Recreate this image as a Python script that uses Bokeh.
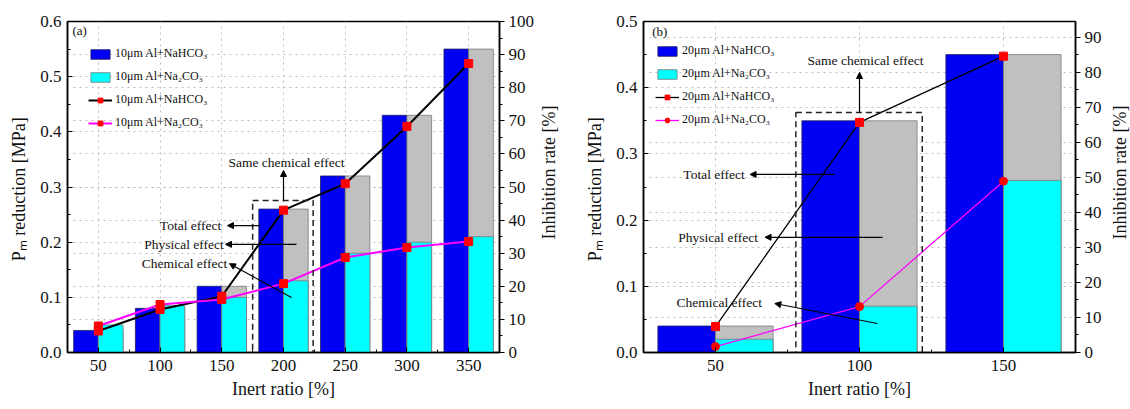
import math
from bokeh.plotting import figure
from bokeh.models import (Range1d, LinearAxis, FixedTicker, Grid, Legend, LegendItem,
                          Label, Arrow, NormalHead, BoxAnnotation, ColumnDataSource,
                          NumeralTickFormatter)
from bokeh.layouts import row
from bokeh.transform import dodge
from bokeh.embed import file_html
from bokeh.resources import INLINE

FONT = "Liberation Serif"

# ---------------- data: panel (a), 10 um Al ----------------
ratio_a = [50, 100, 150, 200, 250, 300, 350]
nahco3_bar_a = [0.04, 0.08, 0.12, 0.26, 0.32, 0.43, 0.55]
na2co3_bar_a = [0.05, 0.085, 0.10, 0.13, 0.18, 0.20, 0.21]
nahco3_rate_a = [6.5, 13.0, 17.0, 43.0, 51.0, 68.3, 87.3]
na2co3_rate_a = [8.0, 14.5, 16.0, 20.8, 28.7, 31.7, 33.5]
labels_a = ["10μm Al+NaHCO₃", "10μm Al+Na₂CO₃", "10μm Al+NaHCO₃", "10μm Al+Na₂CO₃"]

# ---------------- data: panel (b), 20 um Al ----------------
ratio_b = [50, 100, 150]
nahco3_bar_b = [0.04, 0.35, 0.45]
na2co3_bar_b = [0.02, 0.07, 0.26]
nahco3_rate_b = [7.4, 65.7, 84.6]
na2co3_rate_b = [1.7, 13.1, 48.9]
labels_b = ["20μm Al+NaHCO₃", "20μm Al+Na₂CO₃", "20μm Al+NaHCO₃", "20μm Al+Na₂CO₃"]

y_ticks_a = [0.0, 0.1, 0.2, 0.3, 0.4, 0.5, 0.6]
y_ticks_b = [0.0, 0.1, 0.2, 0.3, 0.4, 0.5]
rate_ticks_a = [0, 10, 20, 30, 40, 50, 60, 70, 80, 90, 100]
rate_ticks_b = [0, 10, 20, 30, 40, 50, 60, 70, 80, 90]

BLUE = "#0000F5"
CYAN = "#00FFFF"
GREY = "#C0C0C0"
MAGENTA = "#FF00FF"
RED = "#FF0000"
H = 409


def make_panel(ratio, bar1, bar2, rate1, rate2, labels, yticks, rticks,
               xr, yr, rr, width, bl, br, tag, ann, legend_loc, lw,
               m2="square"):
    p = figure(width=width, height=H, output_backend="svg", toolbar_location=None,
               x_range=Range1d(*xr), y_range=Range1d(*yr),
               min_border_left=bl, min_border_right=br,
               min_border_top=21, min_border_bottom=57)
    p.extra_y_ranges = {"rate": Range1d(*rr)}
    src = ColumnDataSource(dict(ratio=ratio, b1=bar1, b2=bar2, r1=rate1, r2=rate2))

    blue = p.vbar(x=dodge("ratio", -10, range=p.x_range), top="b1", width=20, source=src,
                  fill_color=BLUE, line_color="#202060", line_width=0.8)
    p.vbar(x=dodge("ratio", 10, range=p.x_range), top="b1", width=20, source=src,
           fill_color=GREY, line_color="#7a7a7a", line_width=0.8)
    cyan = p.vbar(x=dodge("ratio", 10, range=p.x_range), top="b2", width=20, source=src,
                  fill_color=CYAN, line_color="#7a7a7a", line_width=0.8)

    l1 = p.line("ratio", "r1", source=src, y_range_name="rate", line_color="black", line_width=lw)
    s1 = p.scatter("ratio", "r1", source=src, y_range_name="rate", marker="square", size=8,
                   fill_color=RED, line_color=RED)
    l2 = p.line("ratio", "r2", source=src, y_range_name="rate", line_color=MAGENTA, line_width=lw)
    s2 = p.scatter("ratio", "r2", source=src, y_range_name="rate", marker=m2, size=8,
                   fill_color=RED, line_color=RED)

    legend = Legend(items=[LegendItem(label=labels[0], renderers=[blue]),
                           LegendItem(label=labels[1], renderers=[cyan]),
                           LegendItem(label=labels[2], renderers=[l1, s1]),
                           LegendItem(label=labels[3], renderers=[l2, s2])],
                    location=legend_loc, margin=0, padding=4,
                    glyph_width=24, glyph_height=12, label_height=14, spacing=8,
                    label_standoff=3, label_text_font=FONT, label_text_font_size="12px",
                    label_text_color="#111111",
                    border_line_color=None, background_fill_alpha=0)
    p.add_layout(legend)

    raxis = LinearAxis(y_range_name="rate")
    p.add_layout(raxis, "right")

    half = (ratio[1] - ratio[0]) / 2
    p.xaxis.ticker = FixedTicker(ticks=ratio, minor_ticks=[r + half for r in ratio] + [ratio[0] - half])
    p.xaxis.axis_label = "Inert ratio [%]"
    ystep = yticks[1] - yticks[0]
    p.yaxis[0].ticker = FixedTicker(ticks=yticks, minor_ticks=[t + ystep / 2 for t in yticks])
    p.yaxis[0].formatter = NumeralTickFormatter(format="0.0")
    p.yaxis[0].axis_label = "Pₘ reduction  [MPa]"
    rstep = rticks[1] - rticks[0]
    raxis.ticker = FixedTicker(ticks=rticks, minor_ticks=[t + rstep / 2 for t in rticks])

    for ax in p.axis:
        ax.axis_label_text_font = FONT
        ax.axis_label_text_font_size = "18px"
        ax.axis_label_text_font_style = "normal"
        ax.axis_label_text_color = "#111111"
        ax.major_label_text_font = FONT
        ax.major_label_text_font_size = "17px"
        ax.major_label_text_color = "#111111"
        ax.axis_line_color = "black"
        ax.axis_line_width = 1.5
        ax.major_tick_line_color = "black"
        ax.minor_tick_line_color = "black"
        ax.major_tick_in = 5
        ax.major_tick_out = 0
        ax.minor_tick_in = 3
        ax.minor_tick_out = 0
        ax.major_label_standoff = 6
        ax.axis_label_standoff = 8
    raxis.major_tick_in = 0
    raxis.major_tick_out = 5
    raxis.minor_tick_in = 0
    raxis.minor_tick_out = 3
    raxis.major_label_standoff = 4
    p.xaxis.major_label_standoff = 7
    p.xaxis.axis_label_standoff = 5

    p.xgrid.ticker = FixedTicker(ticks=ratio)
    p.ygrid.ticker = FixedTicker(ticks=yticks)
    for g in (p.xgrid, p.ygrid):
        g.grid_line_color = "#bdbdbd"
        g.grid_line_dash = "dotted"
        g.grid_line_width = 1
    rgrid = Grid(dimension=1, y_range_name="rate", ticker=FixedTicker(ticks=rticks),
                 grid_line_color="#bdbdbd", grid_line_dash="dotted", grid_line_width=1)
    p.add_layout(rgrid)

    p.outline_line_color = "black"
    p.outline_line_width = 1.5
    p.background_fill_color = "white"
    p.border_fill_color = "white"

    # panel tag
    p.add_layout(Label(x=tag[0], y=tag[1], text=tag[2], text_font=FONT, text_font_size="13px",
                       text_align="left", text_baseline="middle", text_color="#111111"))
    # dashed frame
    bx = ann["box"]
    p.add_layout(BoxAnnotation(left=bx[0], right=bx[1], bottom=bx[2], top=bx[3],
                               fill_alpha=0, line_color="#222222", line_alpha=1,
                               line_dash="6 4", line_width=1.5))
    for (tx, ty, txt) in ann["texts"]:
        p.add_layout(Label(x=tx, y=ty, text=txt, text_font=FONT, text_font_size="13.5px",
                           text_align="center", text_baseline="middle", text_color="#111111"))
    for (x0, y0, x1, y1) in ann["arrows"]:
        p.add_layout(Arrow(end=NormalHead(size=6, fill_color="black", line_color="black"),
                           x_start=x0, y_start=y0, x_end=x1, y_end=y1,
                           line_color="black", line_width=1.2))
    return p


def side_title(width, cx, text):
    # narrow strip holding the right-hand axis title, reading bottom-to-top
    f = figure(width=width, height=H, output_backend="svg", toolbar_location=None,
               x_range=Range1d(0, width), y_range=Range1d(0, H),
               x_axis_type=None, y_axis_type=None,
               min_border_left=0, min_border_right=0, min_border_top=0, min_border_bottom=0)
    f.outline_line_color = None
    f.background_fill_color = "white"
    f.border_fill_color = "white"
    f.add_layout(Label(x=cx, y=H - 186.5, text=text, angle=math.pi / 2,
                       text_font=FONT, text_font_size="18px", text_color="#111111",
                       text_align="center", text_baseline="middle"))
    return f


ann_a = dict(
    box=(175, 224, -0.004, 0.2755),
    texts=[(202.4, 0.344, "Same chemical effect"),
           (124.7, 0.230, "Total effect"),
           (119.4, 0.196, "Physical effect"),
           (119.8, 0.161, "Chemical effect")],
    arrows=[(200, 0.2755, 200, 0.330),
            (181.4, 0.230, 154.6, 0.230),
            (210.5, 0.196, 153.0, 0.196),
            (206.5, 0.0997, 156.2, 0.161)],
)
ann_b = dict(
    box=(77.9, 121.8, -0.009, 0.3625),
    texts=[(102.1, 0.441, "Same chemical effect"),
           (49.5, 0.269, "Total effect"),
           (50.9, 0.174, "Physical effect"),
           (51.3, 0.0755, "Chemical effect")],
    arrows=[(100, 0.3625, 100, 0.423),
            (91.4, 0.269, 62.0, 0.269),
            (108.0, 0.174, 67.2, 0.174),
            (106.2, 0.0438, 70.6, 0.074)],
)

pa = make_panel(ratio_a, nahco3_bar_a, na2co3_bar_a, nahco3_rate_a, na2co3_rate_a, labels_a,
                y_ticks_a, rate_ticks_a, (25, 375), (0, 0.6), (0, 100),
                width=537, bl=67, br=38, tag=(29, 0.584, "(a)"), ann=ann_a,
                legend_loc=(21, 222), lw=2.0, m2="square")
ta = side_title(38, 11, "Inhibition rate [%]")
pb = make_panel(ratio_b, nahco3_bar_b, na2co3_bar_b, nahco3_rate_b, na2co3_rate_b, labels_b,
                y_ticks_b, rate_ticks_b, (25, 175), (0, 0.5), (0, 94.5),
                width=529, bl=68, br=27, tag=(28, 0.485, "(b)"), ann=ann_b,
                legend_loc=(12, 225), lw=1.3, m2="circle")
tb = side_title(26, 15, "Inhibition rate [%]")

layout = row(pa, ta, pb, tb)
open("out.html", "w").write(file_html(layout, INLINE))
